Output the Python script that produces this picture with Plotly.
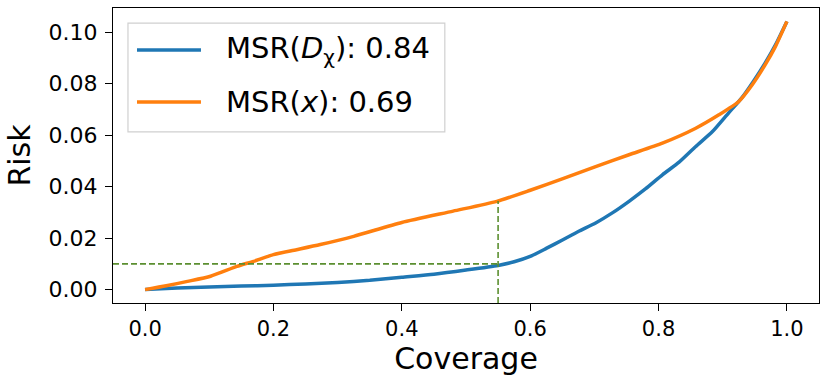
import numpy as np
import plotly.graph_objects as go

# Risk-coverage curves.
cov_dchi = [0.0, 0.05, 0.1, 0.15, 0.2, 0.25, 0.3, 0.35, 0.4, 0.45, 0.5, 0.55,
            0.575, 0.6, 0.625, 0.651, 0.675, 0.702, 0.728, 0.754, 0.78, 0.806,
            0.832, 0.858, 0.884, 0.909, 0.93, 0.948, 0.966, 0.982, 1.0]
risk_dchi = [0.0, 0.0006, 0.001, 0.0014, 0.0017, 0.0022, 0.0028, 0.0036, 0.0048,
             0.006, 0.0076, 0.0094, 0.0108, 0.0129, 0.016, 0.0194, 0.0226, 0.0259,
             0.0298, 0.0343, 0.0392, 0.0446, 0.0495, 0.0556, 0.0614, 0.0686,
             0.0746, 0.081, 0.088, 0.095, 0.1042]

cov_x = [0.0, 0.033, 0.066, 0.102, 0.143, 0.169, 0.2, 0.236, 0.273, 0.325, 0.4,
         0.48, 0.548, 0.599, 0.651, 0.702, 0.754, 0.806, 0.858, 0.894, 0.925,
         0.946, 0.966, 0.982, 1.0]
risk_x = [0.0, 0.0015, 0.0032, 0.0052, 0.009, 0.011, 0.0136, 0.0155, 0.0175,
          0.0207, 0.0261, 0.0305, 0.0343, 0.0385, 0.0431, 0.0478, 0.0524, 0.0569,
          0.0627, 0.0679, 0.0731, 0.0796, 0.0873, 0.0944, 0.1042]

legend_names = ["MSR(<i>D</i><sub>χ</sub>): 0.84", "MSR(<i>x</i>): 0.69"]
colors = ["#1f77b4", "#ff7f0e"]

# Operating point marked with the dashed guides.
target_risk = 0.01
target_cov = 0.55

x_ticks = [0.0, 0.2, 0.4, 0.6, 0.8, 1.0]
y_ticks = [0.0, 0.02, 0.04, 0.06, 0.08, 0.10]

x_range = [-0.05, 1.05]
y_range = [-0.0052, 0.1094]

fig = go.Figure()
fig.add_trace(go.Scatter(x=cov_dchi, y=risk_dchi, mode="lines",
                         line=dict(color=colors[0], width=3.5, shape="spline", smoothing=0.6),
                         showlegend=False))
fig.add_trace(go.Scatter(x=cov_x, y=risk_x, mode="lines",
                         line=dict(color=colors[1], width=3.5, shape="spline", smoothing=0.6),
                         showlegend=False))

# Dashed guides: risk level across to the threshold, then down from the orange curve.
guide_top = float(np.interp(target_cov, cov_x, risk_x))
green = "#5b8f30"
fig.add_trace(go.Scatter(x=[x_range[0], target_cov], y=[target_risk, target_risk],
                         mode="lines", line=dict(color=green, width=1.6, dash="6px,3px"),
                         showlegend=False))
fig.add_trace(go.Scatter(x=[target_cov, target_cov], y=[y_range[0], guide_top],
                         mode="lines", line=dict(color=green, width=1.6, dash="6px,3px"),
                         showlegend=False))

# Legend drawn by hand, matplotlib style.
fig.add_shape(type="rect", xref="paper", yref="paper", x0=0.0212, x1=0.470,
              y0=0.580, y1=0.949, line=dict(color="#d0d0d0", width=1.2),
              fillcolor="rgba(255,255,255,0.8)", layer="above")
for name, col, yy in zip(legend_names, colors, [0.858, 0.681]):
    fig.add_shape(type="line", xref="paper", yref="paper", x0=0.034, x1=0.1246,
                  y0=yy, y1=yy, line=dict(color=col, width=3.5), layer="above")
    fig.add_annotation(xref="paper", yref="paper", x=0.157, y=yy, text=name,
                       showarrow=False, xanchor="left", yanchor="middle",
                       font=dict(size=29, color="black"))

axis_style = dict(showline=True, linecolor="black", linewidth=1.3, mirror=True,
                  ticks="outside", ticklen=7, tickwidth=1.3, tickcolor="black",
                  showgrid=False, zeroline=False, automargin=False)

fig.update_xaxes(range=x_range, tickvals=x_ticks, tickformat=".1f",
                 tickfont=dict(size=21, color="black"),
                 title=dict(text="Coverage", font=dict(size=30, color="black"), standoff=2),
                 **axis_style)
fig.update_yaxes(range=y_range, tickvals=y_ticks, tickformat=".2f",
                 tickfont=dict(size=22, color="black"), ticklabelstandoff=3,
                 title=dict(text="Risk", font=dict(size=30, color="black"), standoff=8),
                 **axis_style)

fig.update_layout(
    width=830, height=383,
    margin=dict(l=113, r=11, t=8, b=80),
    plot_bgcolor="white", paper_bgcolor="white",
    font=dict(family="DejaVu Sans, sans-serif", color="black"),
)

# Drop the page's default body margin so the figure sits at the window's corner.
fig.write_html("out.html", config={"displayModeBar": False},
               post_script="document.body.style.margin='0';")
